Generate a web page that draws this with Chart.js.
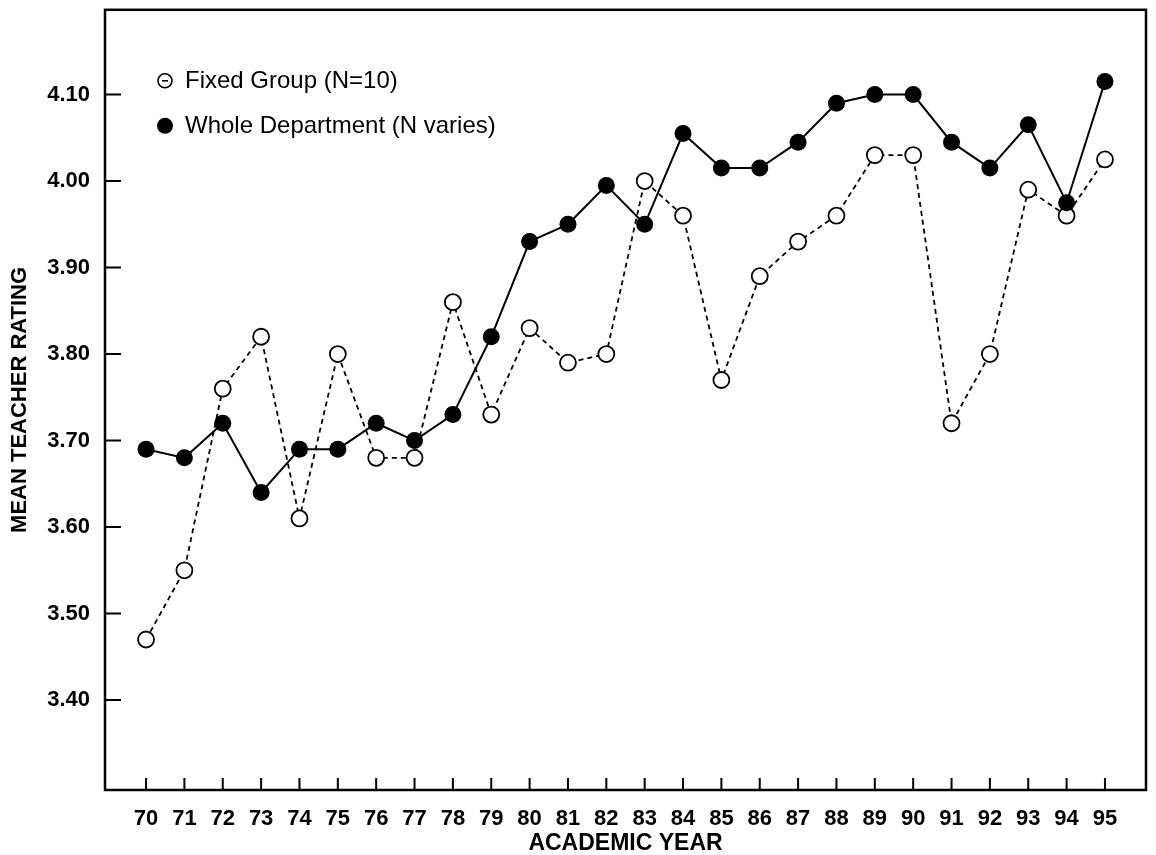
<!DOCTYPE html>
<html>
<head>
<meta charset="utf-8">
<title>Mean Teacher Rating by Academic Year</title>
<script src="https://cdn.jsdelivr.net/npm/chart.js@4.4.1/dist/chart.umd.min.js"></script>
<style>
  html, body { margin: 0; padding: 0; background: #fff; }
  #wrap { width: 1156px; height: 855px; }
</style>
</head>
<body>
<div id="wrap"><canvas id="ratingChart" width="1156" height="855"></canvas></div>
<script>
// academic years on the x axis
const years = [70, 71, 72, 73, 74, 75, 76, 77, 78, 79, 80, 81, 82,
               83, 84, 85, 86, 87, 88, 89, 90, 91, 92, 93, 94, 95];
// mean teacher ratings
const fixedGroup = [3.47, 3.55, 3.76, 3.82, 3.61, 3.80, 3.68, 3.68, 3.86, 3.73, 3.83, 3.79, 3.80,
                    4.00, 3.96, 3.77, 3.89, 3.93, 3.96, 4.03, 4.03, 3.72, 3.80, 3.99, 3.96, 4.025];
const wholeDept = [3.69, 3.68, 3.72, 3.64, 3.69, 3.69, 3.72, 3.70, 3.73, 3.82, 3.93, 3.95, 3.995,
                   3.95, 4.055, 4.015, 4.015, 4.045, 4.09, 4.10, 4.10, 4.045, 4.015, 4.065, 3.975, 4.115];
const yTicks = [3.40, 3.50, 3.60, 3.70, 3.80, 3.90, 4.00, 4.10];

const ink = '#000';
const fam = '"Liberation Sans", Arial, Helvetica, sans-serif';

// box round the plot plus the short inward tick marks
const frameAndTicks = {
    id: 'frameAndTicks',
    afterDraw(chart) {
        const { ctx, chartArea: a, scales } = chart;
        ctx.save();
        ctx.strokeStyle = ink;
        ctx.lineWidth = 2.5;
        ctx.strokeRect(a.left, a.top, a.right - a.left, a.bottom - a.top);
        ctx.lineWidth = 2;
        ctx.beginPath();
        scales.x.ticks.forEach(t => {
            const px = scales.x.getPixelForValue(t.value);
            ctx.moveTo(px, a.bottom);
            ctx.lineTo(px, a.bottom - 12);
        });
        scales.y.ticks.forEach(t => {
            const py = scales.y.getPixelForValue(t.value);
            ctx.moveTo(a.left, py);
            ctx.lineTo(a.left + 16, py);
        });
        ctx.stroke();
        ctx.restore();
    }
};

// legend sits inside the plot, top left
const insetLegend = {
    id: 'insetLegend',
    afterDraw(chart) {
        const { ctx, chartArea: a } = chart;
        const mx = a.left + 60;
        const rows = [a.top + 71, a.top + 116];
        ctx.save();
        ctx.font = '24px ' + fam;
        ctx.fillStyle = ink;
        ctx.strokeStyle = ink;
        ctx.textBaseline = 'middle';
        chart.data.datasets.forEach((ds, i) => {
            const my = rows[i];
            ctx.beginPath();
            if (i === 0) {
                ctx.lineWidth = 1.6;
                ctx.arc(mx, my, 7, 0, Math.PI * 2);
                ctx.stroke();
                ctx.beginPath();
                ctx.moveTo(mx - 3, my);
                ctx.lineTo(mx + 3, my);
                ctx.stroke();
            } else {
                ctx.arc(mx, my, 8, 0, Math.PI * 2);
                ctx.fill();
            }
            ctx.fillText(ds.label, mx + 20, my + 1);
        });
        ctx.restore();
    }
};

const ctx = document.getElementById('ratingChart').getContext('2d');
const chart = new Chart(ctx, {
    type: 'line',
    data: {
        datasets: [{
                label: 'Fixed Group (N=10)',
                data: years.map((yr, i) => ({ x: yr, y: fixedGroup[i] })),
                borderColor: ink,
                borderWidth: 1.8,
                borderDash: [5, 4],
                pointRadius: 8,
                pointBorderWidth: 1.8,
                pointBorderColor: ink,
                pointBackgroundColor: '#fff',
                order: 1
            },
            {
                label: 'Whole Department (N varies)',
                data: years.map((yr, i) => ({ x: yr, y: wholeDept[i] })),
                borderColor: ink,
                borderWidth: 2,
                pointRadius: 8.5,
                pointBorderWidth: 0,
                pointBackgroundColor: ink,
                order: 0
            }
        ]
    },
    options: {
        responsive: false,
        animation: false,
        layout: { padding: { top: 9, right: 10, left: 0, bottom: 0 } },
        elements: { line: { tension: 0, fill: false } },
        plugins: {
            legend: { display: false },
            tooltip: { enabled: false }
        },
        scales: {
            x: {
                type: 'linear',
                min: 68.93,
                max: 96.07,
                grid: { display: false, drawTicks: false },
                border: { display: false },
                afterBuildTicks: scale => { scale.ticks = years.map(v => ({ value: v })); },
                afterFit: scale => {
                    scale.height = 65;
                    scale.paddingLeft = 0;
                    scale.paddingRight = 0;
                },
                ticks: {
                    color: ink,
                    padding: 16,
                    maxRotation: 0,
                    autoSkip: false,
                    font: { family: fam, size: 22, weight: 'bold' },
                    callback: v => String(v)
                },
                title: {
                    display: true,
                    text: 'ACADEMIC YEAR',
                    color: ink,
                    padding: { top: 0, bottom: 0 },
                    font: { family: fam, size: 23, weight: 'bold', lineHeight: 1 }
                }
            },
            y: {
                type: 'linear',
                min: 3.296,
                max: 4.198,
                grid: { display: false, drawTicks: false },
                border: { display: false },
                afterBuildTicks: scale => { scale.ticks = yTicks.map(v => ({ value: v })); },
                afterFit: scale => {
                    scale.width = 105;
                    scale.paddingTop = 0;
                    scale.paddingBottom = 0;
                },
                ticks: {
                    color: ink,
                    padding: 15,
                    font: { family: fam, size: 22, weight: 'bold' },
                    callback: v => v.toFixed(2)
                },
                title: {
                    display: true,
                    text: 'MEAN TEACHER RATING',
                    color: ink,
                    padding: { top: 7, bottom: 0 },
                    font: { family: fam, size: 22, weight: 'bold' }
                }
            }
        }
    },
    plugins: [frameAndTicks, insetLegend]
});
</script>
</body>
</html>
